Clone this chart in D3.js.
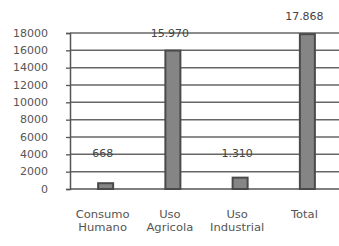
<!DOCTYPE html>
<meta charset="utf-8">
<script src="https://d3js.org/d3.v7.min.js"></script>
<style>
  body { margin: 0; background: #fff; }
  text { font-family: "DejaVu Sans", sans-serif; }
</style>
<div id="chart"></div>
<script>
  // data
  var categories = [["Consumo", "Humano"], ["Uso", "Agricola"], ["Uso", "Industrial"], ["Total"]];
  var values = [668, 15970, 1310, 17868];
  var valueLabels = ["668", "15.970", "1.310", "17.868"];
  var yTicks = [0, 2000, 4000, 6000, 8000, 10000, 12000, 14000, 16000, 18000];

  var W = 339, H = 246;
  var margin = { top: 33, right: 0, bottom: 57, left: 70 };
  var width = W - margin.left - margin.right,
      height = H - margin.top - margin.bottom;

  var svg = d3.select("#chart").append("svg")
    .attr("width", W).attr("height", H)
    .append("g")
    .attr("transform", "translate(" + margin.left + "," + margin.top + ")");

  var keys = categories.map(function (d, i) { return i; });
  var x = d3.scaleBand().domain(keys).range([2, width + 2]);
  var y = d3.scaleLinear().domain([0, 18000]).range([height, 0]);
  var stretch = "scale(1.1,1)";

  // gridlines
  svg.selectAll(".grid").data(yTicks.slice(1)).enter().append("line")
    .attr("x1", 0).attr("x2", width)
    .attr("y1", function (d) { return y(d); })
    .attr("y2", function (d) { return y(d); })
    .attr("stroke", "#666").attr("stroke-width", 1.5);

  // y axis
  var yAxis = svg.append("g").call(d3.axisLeft(y).tickValues(yTicks).tickSize(4).tickFormat(d3.format("d")));
  yAxis.select(".domain").attr("stroke", "#555").attr("stroke-width", 1.5);
  yAxis.selectAll(".tick line").attr("stroke", "#555").attr("stroke-width", 1.3);
  yAxis.selectAll("text").attr("x", 0)
    .attr("transform", "translate(-22,0) " + stretch)
    .attr("fill", "#555").style("font-size", "10px");

  // baseline
  svg.append("line").attr("x1", 0).attr("x2", width)
    .attr("y1", y(0)).attr("y2", y(0))
    .attr("stroke", "#555").attr("stroke-width", 1.5);

  // bars
  var barW = 15;
  svg.selectAll(".bar").data(values).enter().append("rect")
    .attr("x", function (d, i) { return x(i) + x.bandwidth() / 2 - barW / 2; })
    .attr("y", function (d) { return y(d); })
    .attr("width", barW)
    .attr("height", function (d) { return y(0) - y(d); })
    .attr("fill", "#858585").attr("stroke", "#4a4a4a").attr("stroke-width", 2);

  // value labels (small values sit on the 4000 gridline)
  var labelFloor = 4000;
  svg.selectAll(".vlab").data(values).enter().append("text")
    .attr("text-anchor", "middle")
    .attr("transform", function (d, i) {
      var yy = d < labelFloor ? y(labelFloor) + 3 : y(d) - 14;
      return "translate(" + (x(i) + x.bandwidth() / 2 - 3) + "," + yy + ") " + stretch;
    })
    .attr("fill", "#444").style("font-size", "10px")
    .text(function (d, i) { return valueLabels[i]; });

  // category labels
  var cat = svg.selectAll(".cat").data(categories).enter().append("text")
    .attr("text-anchor", "middle")
    .attr("transform", function (d, i) { return "translate(" + (x(i) + x.bandwidth() / 2 - 3) + "," + (height + 29) + ") " + stretch; })
    .attr("fill", "#555").style("font-size", "10.5px");
  cat.selectAll("tspan").data(function (d) { return d; }).enter().append("tspan")
    .attr("x", 0).attr("dy", function (d, j) { return j === 0 ? 0 : 13; })
    .text(function (d) { return d; });
</script>
